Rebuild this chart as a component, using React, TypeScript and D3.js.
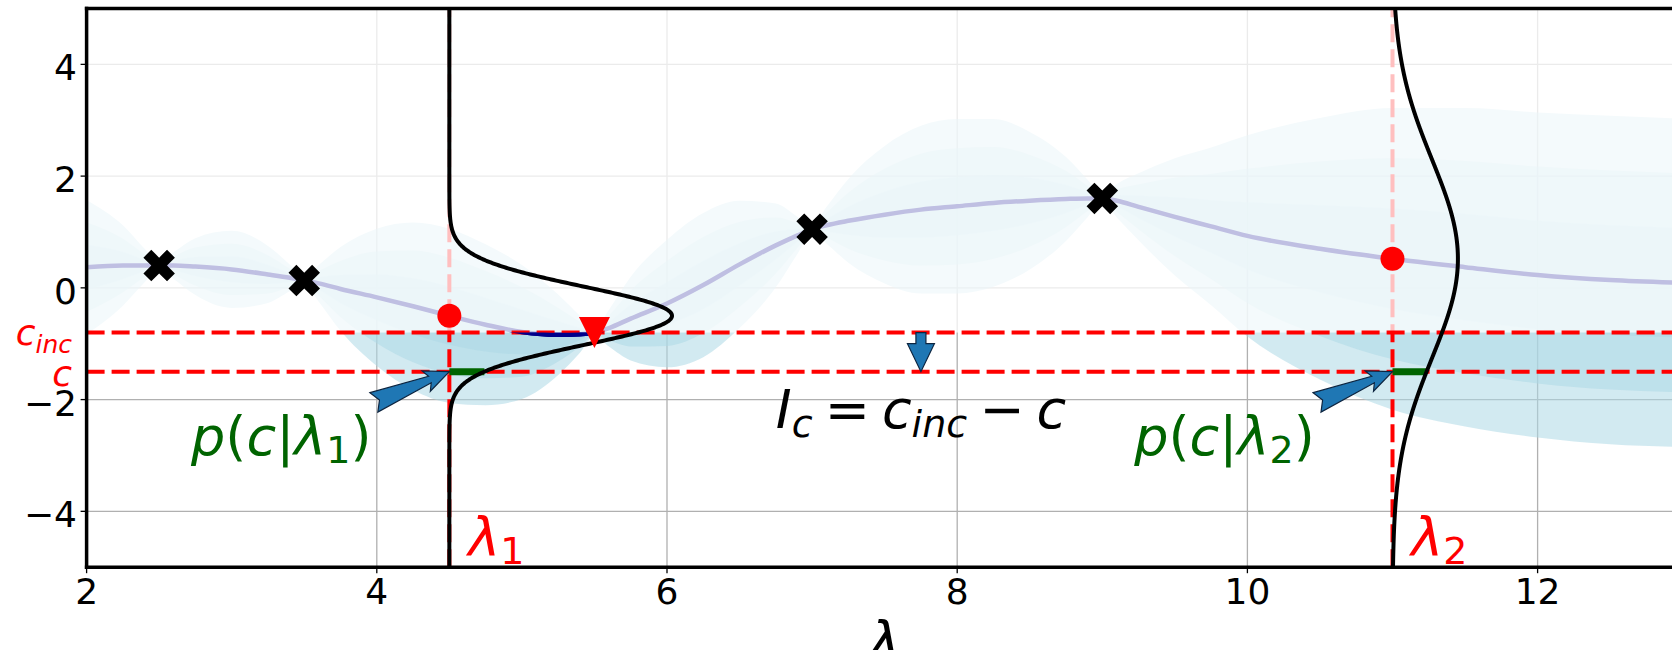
import React from "react";
import * as d3 from "d3";

const W = 1672;
const H = 650;

// Axes
const xDomain: [number, number] = [2, 13];
const yDomain: [number, number] = [-5, 5];
const xTicks = [2, 4, 6, 8, 10, 12];
const yTicks = [-4, -2, 0, 2, 4];

// GP posterior: sample locations, mean and standard deviation
const gpX = [2, 2.25, 2.4, 2.5, 2.6, 2.75, 3, 3.25, 3.4, 3.5, 3.6, 3.75, 4, 4.25, 4.5, 4.75, 5, 5.25, 5.4, 5.5, 5.6, 5.75, 6, 6.25, 6.5, 6.75, 6.9, 7, 7.1, 7.25, 7.5, 7.75, 8, 8.25, 8.5, 8.75, 8.9, 9, 9.1, 9.25, 9.5, 9.75, 10, 10.5, 11, 11.5, 12, 12.5, 13];
const gpMean = [0.37, 0.4, 0.4, 0.4, 0.4, 0.38, 0.33, 0.24, 0.18, 0.13, 0.08, -0.02, -0.17, -0.33, -0.5, -0.66, -0.79, -0.84, -0.83, -0.8, -0.72, -0.55, -0.28, 0.05, 0.42, 0.76, 0.94, 1.05, 1.12, 1.2, 1.31, 1.4, 1.46, 1.52, 1.56, 1.59, 1.6, 1.6, 1.56, 1.45, 1.27, 1.1, 0.93, 0.7, 0.52, 0.37, 0.23, 0.14, 0.09];
const gpStd = [0.4, 0.24, 0.1, 0.02, 0.08, 0.17, 0.23, 0.17, 0.08, 0.02, 0.11, 0.25, 0.41, 0.5, 0.52, 0.48, 0.4, 0.24, 0.11, 0.02, 0.11, 0.25, 0.38, 0.43, 0.38, 0.25, 0.11, 0.02, 0.11, 0.25, 0.41, 0.5, 0.52, 0.5, 0.41, 0.25, 0.11, 0.02, 0.1, 0.2, 0.35, 0.47, 0.6, 0.78, 0.9, 0.95, 0.97, 0.98, 0.98];
const bandK = [3, 2, 1];

// Observations
const obsX = [2.5, 3.5, 7, 9];
const obsY = [0.4, 0.13, 1.05, 1.6];

// Incumbent and target
const incX = 5.5;
const cInc = -0.8;
const cTarget = -1.5;

// Candidate points λ1, λ2 with predictive mean / spread
const candX = [4.5, 11];
const candMean = [-0.5, 0.52];
const candSigma = [0.52, 1.77];
const candNames = ["1", "2"];
const densityScale = 2;

// Annotation anchors (data coords)
const arrowTailDx = -0.52;
const arrowTailY = -2.05;
const probLabelDx = -1.78;
const probLabelY = -3.0;
const gainLabelX = 6.75;
const gainLabelY = -2.5;
const gainArrowX = 7.75;

const FONT = "DejaVu Sans";
const RED = "#ff0000";
const GREEN = "#006400";
const C0 = "#1f77b4";

const x = d3.scaleLinear().domain(xDomain).range([86.6, 1682.7]);
const y = d3.scaleLinear().domain(yDomain).range([567.2, 8.5]);

const pdf = (v: number, mu: number, s: number) =>
  Math.exp(-((v - mu) ** 2) / (2 * s * s)) / (s * Math.sqrt(2 * Math.PI));

function fancyArrow(tx: number, ty: number, hx: number, hy: number) {
  const dx = hx - tx;
  const dy = hy - ty;
  const L = Math.hypot(dx, dy);
  const ux = dx / L, uy = dy / L;
  const nx = -uy, ny = ux;
  const pt = (s: number, w: number): [number, number] => [tx + ux * s + nx * w, ty + uy * s + ny * w];
  const pts = [pt(0, -10.5), pt(L - 21, -3.5), pt(L - 25, -11), pt(L, 0), pt(L - 25, 11), pt(L - 21, 3.5), pt(0, 10.5), pt(6, 0)];
  return (d3.line()(pts) as string) + "Z";
}

export default function App() {
  const left = x(xDomain[0]);
  const right = x(xDomain[1]);
  const top = y(yDomain[1]);
  const bottom = y(yDomain[0]);

  const idx = d3.range(gpX.length);
  const bands = bandK.map((k) =>
    d3
      .area<number>()
      .x((i) => x(gpX[i]))
      .y0((i) => y(gpMean[i] - k * gpStd[i]))
      .y1((i) => y(gpMean[i] + k * gpStd[i]))
      .curve(d3.curveMonotoneX)(idx) as string
  );
  const meanPath = d3
    .line<number>()
    .x((i) => x(gpX[i]))
    .y((i) => y(gpMean[i]))
    .curve(d3.curveMonotoneX)(idx) as string;

  const ySamples = d3.range(yDomain[0], yDomain[1] + 1e-9, 0.01);
  const densityPaths = candX.map((lam, j) =>
    d3
      .line<number>()
      .x((v) => x(lam + densityScale * pdf(v, candMean[j], candSigma[j])))
      .y((v) => y(v))(ySamples) as string
  );

  const xSym = d3.symbol().type(d3.symbolCross).size(620)() as string;
  const triPath = "M-15.5,-15.5L15.5,-15.5L0,15.5Z";

  const ax = x(gainArrowX);
  const aTop = y(cInc);
  const aTip = y(cTarget);
  const downArrow = `M${ax - 5},${aTop}L${ax + 5},${aTop}L${ax + 5},${aTip - 28}L${ax + 13.5},${aTip - 28}L${ax},${aTip}L${ax - 13.5},${aTip - 28}L${ax - 5},${aTip - 28}Z`;

  return (
    <svg width={W} height={H} style={{ position: "absolute", left: 0, top: 0, background: "#fff" }} fontFamily={FONT}>
      <defs>
        <clipPath id="plot">
          <rect x={left} y={top} width={right - left} height={bottom - top} />
        </clipPath>
        <clipPath id="belowInc">
          <rect x={left} y={y(cInc)} width={right - left} height={bottom - y(cInc)} />
        </clipPath>
      </defs>
      <rect x={0} y={0} width={W} height={H} fill="#fff" />

      <g clipPath="url(#plot)">
        {/* grid */}
        {xTicks.map((t) => (
          <line key={"gx" + t} x1={x(t)} x2={x(t)} y1={top} y2={bottom} stroke="#b0b0b0" strokeWidth={1.3} />
        ))}
        {yTicks.map((t) => (
          <line key={"gy" + t} x1={left} x2={right} y1={y(t)} y2={y(t)} stroke="#b0b0b0" strokeWidth={1.3} />
        ))}

        {/* confidence bands */}
        {bands.map((d, i) => (
          <path key={"band" + i} d={d} fill="#add8e6" fillOpacity={0.55} />
        ))}

        {/* posterior mean */}
        <path d={meanPath} fill="none" stroke="#00008b" strokeWidth={4.5} />

        {/* candidate verticals */}
        {candX.map((lam) => (
          <line key={"v" + lam} x1={x(lam)} x2={x(lam)} y1={bottom} y2={top} stroke={RED} strokeWidth={4} strokeDasharray="18 7" />
        ))}

        {/* fade everything above the incumbent level */}
        <rect x={left} y={top} width={right - left} height={y(cInc) - top} fill="#fff" fillOpacity={0.75} />

        {/* incumbent and target levels */}
        {[cInc, cTarget].map((c) => (
          <line key={"h" + c} x1={left} x2={right} y1={y(c)} y2={y(c)} stroke={RED} strokeWidth={4} strokeDasharray="18 7" />
        ))}

        {/* mean below incumbent */}
        <path d={meanPath} fill="none" stroke="#00008b" strokeWidth={4.5} clipPath="url(#belowInc)" />

        {/* density at target level */}
        {candX.map((lam, j) => (
          <line
            key={"g" + lam}
            x1={x(lam)}
            x2={x(lam + densityScale * pdf(cTarget, candMean[j], candSigma[j]))}
            y1={y(cTarget)}
            y2={y(cTarget)}
            stroke={GREEN}
            strokeWidth={7}
          />
        ))}

        {/* predictive densities */}
        {densityPaths.map((d, j) => (
          <path key={"dens" + j} d={d} fill="none" stroke="#000" strokeWidth={4} />
        ))}

        {/* observations */}
        {obsX.map((ox, i) => (
          <path key={"obs" + i} d={xSym} transform={`translate(${x(ox)},${y(obsY[i])}) rotate(45)`} fill="#000" />
        ))}

        {/* candidate means */}
        {candX.map((lam, j) => (
          <circle key={"cm" + lam} cx={x(lam)} cy={y(candMean[j])} r={12} fill={RED} />
        ))}

        {/* incumbent */}
        <path d={triPath} transform={`translate(${x(incX)},${y(cInc)})`} fill={RED} />

        {/* arrows */}
        {candX.map((lam) => (
          <path
            key={"arr" + lam}
            d={fancyArrow(x(lam + arrowTailDx), y(arrowTailY), x(lam), y(cTarget))}
            fill={C0}
            stroke="#0d2540"
            strokeWidth={1.2}
            strokeLinejoin="miter"
          />
        ))}
        <path d={downArrow} fill={C0} stroke="#0d2540" strokeWidth={1.2} />

        {/* annotations */}
        {candX.map((lam, j) => (
          <text key={"pl" + lam} x={x(lam + probLabelDx)} y={y(probLabelY)} fontSize={54} fill={GREEN}>
            <tspan fontStyle="italic">p</tspan>
            <tspan>(</tspan>
            <tspan fontStyle="italic">c</tspan>
            <tspan>|</tspan>
            <tspan fontStyle="italic">λ</tspan>
            <tspan fontSize={38} dy={8}>{candNames[j]}</tspan>
            <tspan dy={-8}>)</tspan>
          </text>
        ))}
        {candX.map((lam, j) => (
          <text key={"ll" + lam} x={x(lam + 0.13)} y={y(-4.8)} fontSize={54} fill={RED}>
            <tspan fontStyle="italic">λ</tspan>
            <tspan fontSize={38} dy={8}>{candNames[j]}</tspan>
          </text>
        ))}
        <text x={x(gainLabelX)} y={y(gainLabelY)} fontSize={54} fill="#000">
          <tspan fontStyle="italic">I</tspan>
          <tspan fontStyle="italic" fontSize={38} dy={9}>c</tspan>
          <tspan dy={-9} dx={12}>=</tspan>
          <tspan fontStyle="italic" dx={12}>c</tspan>
          <tspan fontStyle="italic" fontSize={38} dy={9}>inc</tspan>
          <tspan dy={-9} dx={12}>−</tspan>
          <tspan fontStyle="italic" dx={12}>c</tspan>
        </text>
      </g>

      {/* spines */}
      <line x1={left} x2={left} y1={top} y2={bottom} stroke="#000" strokeWidth={3.5} strokeLinecap="square" />
      <line x1={left} x2={right} y1={top} y2={top} stroke="#000" strokeWidth={3.5} strokeLinecap="square" />
      <line x1={left} x2={right} y1={bottom} y2={bottom} stroke="#000" strokeWidth={3.5} strokeLinecap="square" />

      {/* ticks */}
      {xTicks.map((t) => (
        <g key={"xt" + t}>
          <line x1={x(t)} x2={x(t)} y1={bottom} y2={bottom + 6} stroke="#000" strokeWidth={1.3} />
          <text x={x(t)} y={604} fontSize={36} textAnchor="middle" fill="#000">
            {t}
          </text>
        </g>
      ))}
      {yTicks.map((t) => (
        <g key={"yt" + t}>
          <line x1={left - 6} x2={left} y1={y(t)} y2={y(t)} stroke="#000" strokeWidth={1.3} />
          <text x={77} y={y(t) + 16} fontSize={36} textAnchor="end" fill="#000">
            {t < 0 ? "−" + Math.abs(t) : String(t)}
          </text>
        </g>
      ))}
      <text x={72} y={y(cInc) + 12} fontSize={36} textAnchor="end" fill={RED}>
        <tspan fontStyle="italic">c</tspan>
        <tspan fontStyle="italic" fontSize={25} dy={8}>inc</tspan>
      </text>
      <text x={72} y={y(cTarget) + 14} fontSize={36} textAnchor="end" fill={RED} fontStyle="italic">
        c
      </text>

      {/* x label */}
      <text x={(left + right) / 2} y={660} fontSize={54} textAnchor="middle" fontStyle="italic" fill="#000">
        λ
      </text>
    </svg>
  );
}
